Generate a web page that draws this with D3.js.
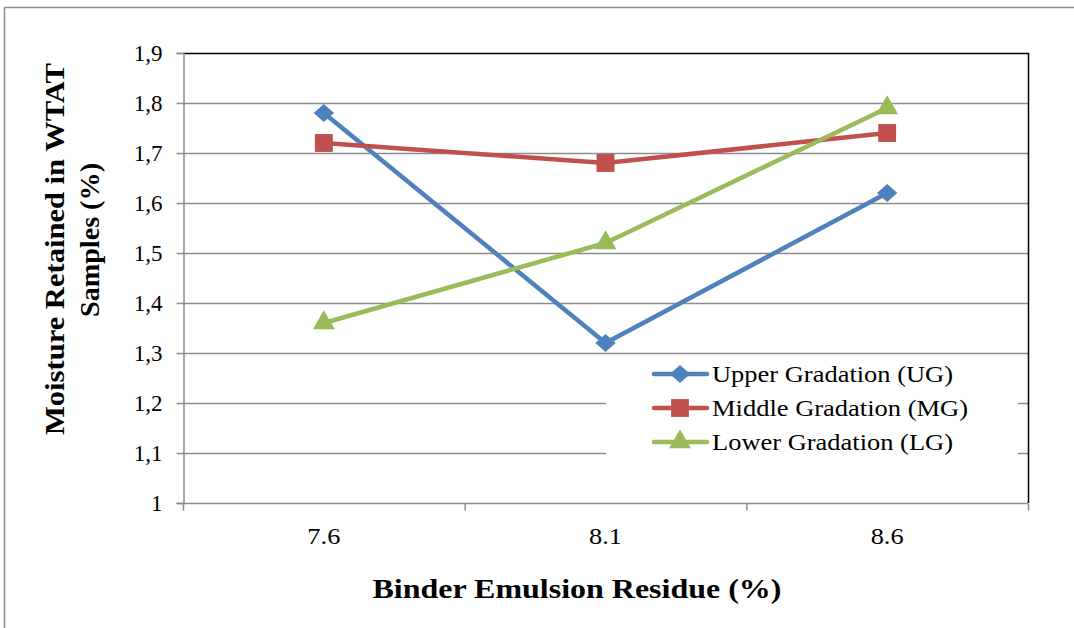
<!DOCTYPE html>
<html>
<head>
<meta charset="utf-8">
<script src="https://cdn.jsdelivr.net/npm/d3@7"></script>
<style>
  body { margin: 0; background: #fff; }
</style>
</head>
<body>
<div id="chart"></div>
<script>
// data
var categories = ["7.6", "8.1", "8.6"];
var upperGradation = [1.78, 1.32, 1.62];
var middleGradation = [1.72, 1.68, 1.74];
var lowerGradation = [1.36, 1.52, 1.79];
var yTicks = [1, 1.1, 1.2, 1.3, 1.4, 1.5, 1.6, 1.7, 1.8, 1.9];
var seriesNames = ["Upper Gradation (UG)", "Middle Gradation (MG)", "Lower Gradation (LG)"];

var seriesList = [
  { name: seriesNames[0], values: upperGradation, color: "#4F81BD", marker: "diamond", len: 241 },
  { name: seriesNames[1], values: middleGradation, color: "#C0504D", marker: "square", len: 256 },
  { name: seriesNames[2], values: lowerGradation, color: "#9BBB59", marker: "triangle", len: 241 }
];

var SERIF = "Liberation Serif";
var W = 1074, H = 628;
var plot = { left: 183, right: 1028, top: 53, bottom: 503 };

var svg = d3.select("#chart").append("svg")
  .attr("width", W)
  .attr("height", H);

// outer chart frame
svg.append("path")
  .attr("d", "M4.5," + H + "V7.5H" + W)
  .attr("fill", "none")
  .attr("stroke", "#8c8c8c")
  .attr("stroke-width", 1.5);

var x = d3.scaleBand().domain(categories).range([plot.left, plot.right]);
var y = d3.scaleLinear().domain([1, 1.9]).range([plot.bottom, plot.top]);

var fmt = function (d) { return d3.format(".1~f")(d).replace(".", ","); };

// gridlines
svg.append("g").selectAll("line")
  .data(yTicks.filter(function (d) { return d > 1 && d < 1.9; }))
  .join("line")
  .attr("x1", plot.left).attr("x2", plot.right)
  .attr("y1", function (d) { return Math.round(y(d)) + 0.5; })
  .attr("y2", function (d) { return Math.round(y(d)) + 0.5; })
  .attr("stroke", "#8c8c8c")
  .attr("stroke-width", 1.5);

// plot area top/right border
svg.append("path")
  .attr("d", "M" + plot.left + "," + (plot.top + 0.5) + "H" + (plot.right + 0.5) + "V" + plot.bottom)
  .attr("fill", "none")
  .attr("stroke", "#000")
  .attr("stroke-width", 1.5);

// y axis
var yAxis = svg.append("g")
  .attr("transform", "translate(" + (plot.left + 0.5) + ",0)")
  .call(d3.axisLeft(y).tickValues(yTicks).tickFormat(fmt).tickSize(7).tickPadding(14));
yAxis.attr("font-family", null).attr("font-size", null);
yAxis.select(".domain").attr("stroke", "#8c8c8c").attr("stroke-width", 1.5);
yAxis.selectAll(".tick line").attr("stroke", "#8c8c8c").attr("stroke-width", 1.5);
yAxis.selectAll(".tick text")
  .style("font-family", SERIF).style("font-size", "23px")
  .attr("fill", "#000").attr("dy", "0.34em");

// x axis: ticks between categories
var xAxis = svg.append("g")
  .attr("transform", "translate(0," + (plot.bottom + 0.5) + ")");
xAxis.append("line")
  .attr("x1", plot.left).attr("x2", plot.right)
  .attr("stroke", "#8c8c8c").attr("stroke-width", 1.5);
var bounds = categories.map(function (c) { return x(c); }).concat([plot.right]);
xAxis.selectAll(".tk").data(bounds).join("line")
  .attr("class", "tk")
  .attr("x1", function (d) { return d + 0.5; }).attr("x2", function (d) { return d + 0.5; })
  .attr("y1", 0).attr("y2", 7)
  .attr("stroke", "#8c8c8c").attr("stroke-width", 1.5);
xAxis.selectAll(".lbl").data(categories).join("text")
  .attr("class", "lbl")
  .attr("x", function (d) { return x(d) + x.bandwidth() / 2; })
  .attr("y", 40)
  .attr("text-anchor", "middle")
  .attr("textLength", 33)
  .attr("lengthAdjust", "spacingAndGlyphs")
  .style("font-family", SERIF).style("font-size", "23px")
  .text(function (d) { return d; });

// axis titles
svg.append("text")
  .attr("x", 577).attr("y", 598)
  .attr("text-anchor", "middle")
  .attr("textLength", 409)
  .attr("lengthAdjust", "spacingAndGlyphs")
  .style("font-family", SERIF).style("font-size", "27px").style("font-weight", "bold")
  .text("Binder Emulsion Residue (%)");

svg.append("text")
  .attr("transform", "translate(64,249) rotate(-90)")
  .attr("text-anchor", "middle")
  .attr("textLength", 372)
  .attr("lengthAdjust", "spacingAndGlyphs")
  .style("font-family", SERIF).style("font-size", "27px").style("font-weight", "bold")
  .text("Moisture Retained in WTAT");
svg.append("text")
  .attr("transform", "translate(99,240) rotate(-90)")
  .attr("text-anchor", "middle")
  .attr("textLength", 154)
  .attr("lengthAdjust", "spacingAndGlyphs")
  .style("font-family", SERIF).style("font-size", "27px").style("font-weight", "bold")
  .text("Samples (%)");

// markers
function markerPath(type) {
  if (type === "diamond") return d3.symbol().type(d3.symbolDiamond2).size(210)();
  if (type === "square") return d3.symbol().type(d3.symbolSquare).size(320)();
  return d3.symbol().type(d3.symbolTriangle).size(210)();
}
function markerScale(type) {
  return type === "diamond" ? " scale(1.12,1)" : "";
}

var line = d3.line()
  .x(function (d, i) { return x(categories[i]) + x.bandwidth() / 2; })
  .y(function (d) { return y(d); });

seriesList.forEach(function (s) {
  var g = svg.append("g");
  g.append("path")
    .attr("d", line(s.values))
    .attr("fill", "none")
    .attr("stroke", s.color)
    .attr("stroke-width", 4.5)
    .attr("stroke-linejoin", "round");
  g.selectAll("path.mk").data(s.values).join("path")
    .attr("class", "mk")
    .attr("d", markerPath(s.marker))
    .attr("transform", function (d, i) {
      return "translate(" + (x(categories[i]) + x.bandwidth() / 2) + "," + y(d) + ")" + markerScale(s.marker);
    })
    .attr("fill", s.color);
});

// legend
var legend = svg.append("g").attr("transform", "translate(606,357)");
legend.append("rect")
  .attr("x", 0).attr("y", 0).attr("width", 412).attr("height", 105)
  .attr("fill", "#fff");
seriesList.forEach(function (s, i) {
  var row = legend.append("g").attr("transform", "translate(0," + (17 + i * 34) + ")");
  row.append("line")
    .attr("x1", 48).attr("x2", 101)
    .attr("stroke", s.color).attr("stroke-width", 4.5).attr("stroke-linecap", "round");
  row.append("path")
    .attr("d", markerPath(s.marker))
    .attr("transform", "translate(74,0)" + markerScale(s.marker))
    .attr("fill", s.color);
  row.append("text")
    .attr("x", 106).attr("y", 8)
    .attr("textLength", s.len)
    .attr("lengthAdjust", "spacingAndGlyphs")
    .style("font-family", SERIF).style("font-size", "24px")
    .text(s.name);
});
</script>
</body>
</html>
